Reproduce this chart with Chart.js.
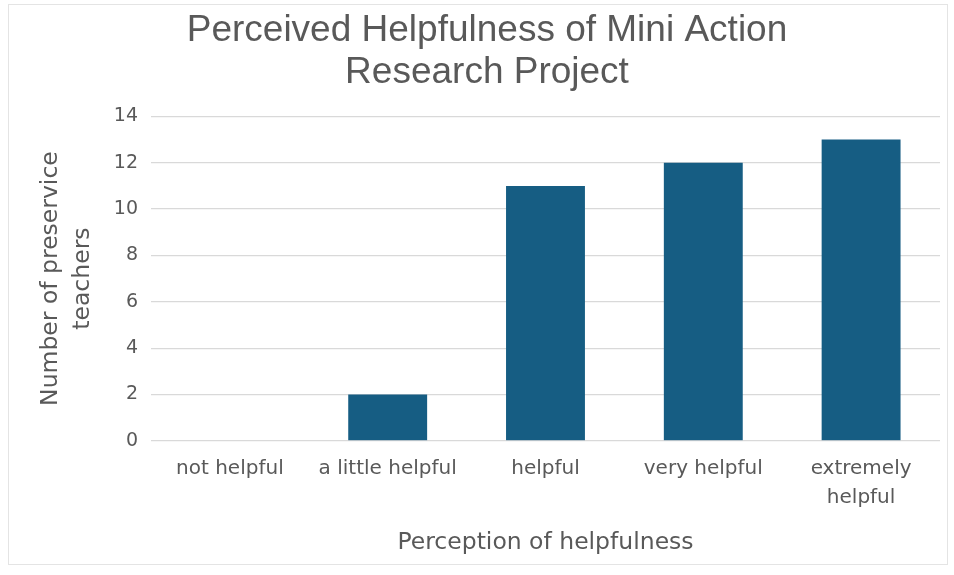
<!DOCTYPE html>
<html>
<head>
<meta charset="utf-8">
<script src="https://cdn.jsdelivr.net/npm/chart.js@4.4.0/dist/chart.umd.min.js"></script>
<style>
  html, body { margin: 0; padding: 0; background: #fff; }
  #frame {
    position: absolute; left: 8px; top: 4px; width: 940px; height: 561px;
    border: 1px solid #e4e4e4; box-sizing: border-box;
  }
  #wrap { position: absolute; left: 0; top: 0; width: 954px; height: 575px; }
</style>
</head>
<body>
<div id="frame"></div>
<div id="wrap"><canvas id="chart" width="954" height="575"></canvas></div>
<script>
// categories and counts
const categories = ['not helpful', 'a little helpful', 'helpful', 'very helpful', ['extremely', 'helpful']];
const counts = [0, 2, 11, 12, 13];
const yTicks = [0, 2, 4, 6, 8, 10, 12, 14];

const textGray = '#595959';
const titleFont = "'Liberation Sans', Arial, sans-serif";
const font = "'DejaVu Sans', Verdana, sans-serif";

const ctx = document.getElementById('chart');
new Chart(ctx, {
  type: 'bar',
  data: {
    labels: categories,
    datasets: [{
      data: counts,
      backgroundColor: '#165d83',
      barPercentage: 0.5,
      categoryPercentage: 1.0,
    }],
  },
  options: {
    responsive: false,
    animation: false,
    layout: { padding: { left: 34, right: 14, top: 10, bottom: 18 } },
    plugins: {
      legend: { display: false },
      tooltip: { enabled: false },
      title: {
        display: true,
        text: ['Perceived Helpfulness of Mini Action', 'Research Project'],
        color: textGray,
        font: { family: titleFont, size: 37, weight: 'normal', lineHeight: 1.14 },
        padding: { top: 0, bottom: 22 },
      },
    },
    scales: {
      x: {
        grid: { display: false, drawTicks: false },
        border: { display: false },
        ticks: {
          color: textGray,
          font: { family: font, size: 20, lineHeight: 1.45 },
          padding: 13,
          maxRotation: 0,
          autoSkip: false,
        },
        title: {
          display: true,
          text: 'Perception of helpfulness',
          color: textGray,
          font: { family: font, size: 23.5 },
          padding: { top: 4, bottom: 0 },
        },
      },
      y: {
        min: 0,
        max: 14,
        afterBuildTicks: axis => { axis.ticks = yTicks.map(v => ({ value: v })); },
        grid: { color: '#d9d9d9', lineWidth: 1.2, drawTicks: false },
        border: { display: false },
        ticks: {
          color: textGray,
          font: { family: font, size: 19 },
          padding: 13,
        },
        title: {
          display: true,
          text: ['Number of preservice', 'teachers'],
          color: textGray,
          font: { family: font, size: 23.5, lineHeight: 1.4 },
          padding: { top: 0, bottom: 1 },
        },
      },
    },
  },
});
</script>
</body>
</html>
